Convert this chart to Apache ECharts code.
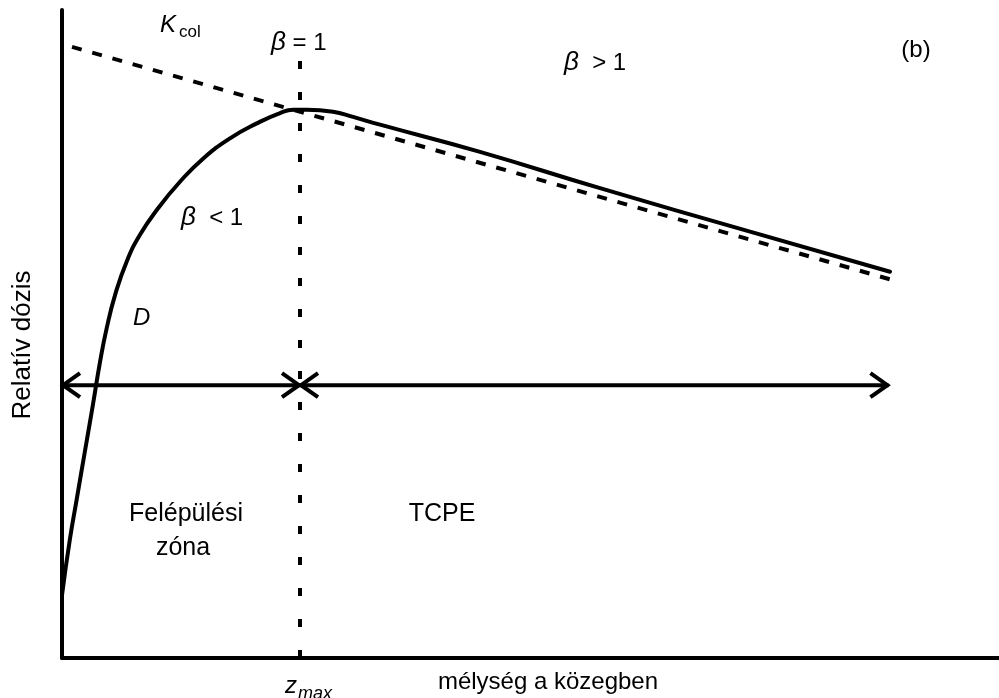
<!DOCTYPE html>
<html>
<head>
<meta charset="utf-8">
<script src="https://cdn.jsdelivr.net/npm/echarts@6/dist/echarts.min.js"></script>
<style>
  html, body { margin: 0; padding: 0; background: #fff; }
  #chart { width: 999px; height: 698px; }
</style>
</head>
<body>
<div id="chart"></div>
<script>
// Depth-dose curve D (depth in arbitrary units, relative dose in %)
const curveDepth = [0, 0.083, 0.156, 0.247, 0.329, 0.406, 0.477, 0.566, 0.691, 0.832, 1.025, 1.259, 1.508, 1.793, 2.078, 2.327, 2.469, 2.612, 2.892, 3.106, 3.394, 4.461, 5.742, 7.343, 8.837];
const curveDose  = [9.7, 18.2, 24.4, 32.1, 39.0, 45.7, 50.9, 56.0, 61.2, 65.3, 69.4, 73.5, 77.1, 80.2, 82.5, 84.1, 84.6, 84.6, 84.3, 83.5, 82.3, 78.1, 72.5, 65.8, 59.6];

// Collision kerma K_col (dashed straight line)
const kcolDepth = [0.107, 8.943];
const kcolDose  = [94.3, 58.0];

// Depth of dose maximum and the height of its marker line
const zMax = 2.54;
const zMaxLineTop = 92.6;

// Double arrows: build-up zone and TCPE region
const arrowDose = 42.1;
const arrowStops = [0, zMax, 8.82];

const FONT = "'Liberation Sans', Arial, Helvetica, sans-serif";
const INK = '#000';

const toPairs = (xs, ys) => xs.map((x, i) => [x, ys[i]]);
const arrowSpans = [];
for (let i = 0; i < arrowStops.length - 1; i++) {
  arrowSpans.push([arrowStops[i], arrowStops[i + 1], arrowDose]);
}

function renderArrow(params, api) {
  const a = api.coord([api.value(0), api.value(2)]);
  const b = api.coord([api.value(1), api.value(2)]);
  const back = 18, half = 12;
  const style = { stroke: INK, lineWidth: 4, fill: null, lineJoin: 'miter' };
  return {
    type: 'group',
    children: [
      { type: 'line', shape: { x1: a[0], y1: a[1], x2: b[0], y2: b[1] }, style: style },
      { type: 'polyline', shape: { points: [[a[0] + back, a[1] - half], [a[0] + 1, a[1]], [a[0] + back, a[1] + half]] }, style: style },
      { type: 'polyline', shape: { points: [[b[0] - back, b[1] - half], [b[0] - 1, b[1]], [b[0] - back, b[1] + half]] }, style: style }
    ]
  };
}

function label(text, x, y, size, opts) {
  opts = opts || {};
  return {
    type: 'text', x: x, y: y, rotation: opts.rotation || 0, silent: true,
    style: {
      text: text, fill: INK, fontFamily: FONT, fontSize: size,
      fontStyle: opts.italic ? 'italic' : 'normal',
      align: opts.align || 'left', verticalAlign: 'middle',
      rich: {
        i: { fontStyle: 'italic', fontSize: size + 2, fontFamily: FONT, fill: INK }
      }
    }
  };
}

const chart = echarts.init(document.getElementById('chart'), null, { renderer: 'canvas' });

chart.setOption({
  backgroundColor: '#fff',
  animation: false,
  grid: { left: 62, right: 0, top: 10, bottom: 40, containLabel: false },
  xAxis: {
    type: 'value', min: 0, max: 10,
    axisLine: { show: true, onZero: false, lineStyle: { color: INK, width: 4 } },
    axisTick: { show: false }, axisLabel: { show: false }, splitLine: { show: false }
  },
  yAxis: {
    type: 'value', min: 0, max: 100,
    axisLine: { show: true, onZero: false, lineStyle: { color: INK, width: 4 } },
    axisTick: { show: false }, axisLabel: { show: false }, splitLine: { show: false }
  },
  series: [
    {
      name: 'K_col', type: 'line', data: toPairs(kcolDepth, kcolDose),
      symbol: 'none', silent: true,
      lineStyle: { color: INK, width: 4, type: [10, 11], cap: 'butt' }
    },
    {
      name: 'z_max', type: 'line', data: [[zMax, 0], [zMax, zMaxLineTop]],
      symbol: 'none', silent: true,
      lineStyle: { color: INK, width: 4, type: [8, 23], cap: 'butt' }
    },
    {
      name: 'D', type: 'line', data: toPairs(curveDepth, curveDose),
      symbol: 'none', silent: true, smooth: 0.5,
      lineStyle: { color: INK, width: 4, cap: 'round', join: 'round' }
    },
    {
      name: 'zones', type: 'custom', data: arrowSpans, renderItem: renderArrow,
      encode: { x: [0, 1], y: 2 }, clip: false, silent: true
    }
  ],
  graphic: [
    label('K', 160, 25, 24, { italic: true }),
    label('col', 179, 32, 17),
    label('{i|β} = 1', 271, 43, 24),
    label('{i|β}  > 1', 564, 63, 24),
    label('{i|β}  < 1', 181, 218, 24),
    label('(b)', 916, 50, 24, { align: 'center' }),
    label('D', 133, 318, 24, { italic: true }),
    label('Felépülési', 186, 514, 25, { align: 'center' }),
    label('zóna', 183, 548, 25, { align: 'center' }),
    label('TCPE', 442, 514, 25, { align: 'center' }),
    label('z', 285, 686, 24, { italic: true }),
    label('max', 298, 694, 18, { italic: true }),
    label('mélység a közegben', 548, 682, 24, { align: 'center' }),
    label('Relatív dózis', 23, 345, 26, { align: 'center', rotation: Math.PI / 2 })
  ]
});
</script>
</body>
</html>
